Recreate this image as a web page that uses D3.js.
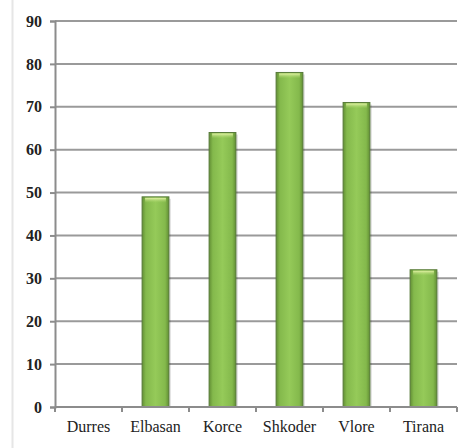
<!DOCTYPE html>
<html>
<head>
<meta charset="utf-8">
<script src="https://cdn.jsdelivr.net/npm/d3@7"></script>
<style>
  body { margin: 0; background: #fff; }
  svg { display: block; }
  svg text { font-family: "Liberation Serif", "Times New Roman", serif; }
</style>
</head>
<body>
<svg id="chart"></svg>
<script>
// data
var cities = ['Durres', 'Elbasan', 'Korce', 'Shkoder', 'Vlore', 'Tirana'];
var values = [0, 49, 64, 78, 71, 32];
var yTicks = [0, 10, 20, 30, 40, 50, 60, 70, 80, 90];

var W = 458, H = 448;
var plotLeft = 55, plotRight = 457, plotTop = 21, plotBottom = 407;

var svg = d3.select('#chart').attr('width', W).attr('height', H);

var defs = svg.append('defs');
var grad = defs.append('linearGradient').attr('id', 'barGrad')
    .attr('x1', 0).attr('x2', 1).attr('y1', 0).attr('y2', 0);
grad.append('stop').attr('offset', '0%').attr('stop-color', '#628f34');
grad.append('stop').attr('offset', '14%').attr('stop-color', '#84b94c');
grad.append('stop').attr('offset', '50%').attr('stop-color', '#95ca59');
grad.append('stop').attr('offset', '86%').attr('stop-color', '#84b94c');
grad.append('stop').attr('offset', '100%').attr('stop-color', '#628f34');

var cap = defs.append('linearGradient').attr('id', 'capGrad')
    .attr('x1', 0).attr('x2', 0).attr('y1', 0).attr('y2', 1);
cap.append('stop').attr('offset', '0%').attr('stop-color', '#e4f2a6').attr('stop-opacity', 1);
cap.append('stop').attr('offset', '100%').attr('stop-color', '#a6d468').attr('stop-opacity', 0);

// faint frame line on the left
svg.append('line')
    .attr('x1', 12.5).attr('x2', 12.5).attr('y1', 0).attr('y2', H)
    .attr('stroke', '#e6e6e6').attr('stroke-width', 2);

var x = d3.scaleBand()
    .domain(cities)
    .range([plotLeft, plotRight])
    .paddingInner(0.6)
    .paddingOuter(0.3);

var y = d3.scaleLinear()
    .domain([0, 90])
    .range([plotBottom, plotTop]);

// gridlines
svg.append('g').selectAll('line')
  .data(yTicks.filter(function(d) { return d > 0; }))
  .enter().append('line')
    .attr('x1', plotLeft).attr('x2', plotRight)
    .attr('y1', function(d) { return y(d); })
    .attr('y2', function(d) { return y(d); })
    .attr('stroke', '#9a9a9a').attr('stroke-width', 2);

// y axis
var yAxis = svg.append('g')
    .attr('transform', 'translate(' + plotLeft + ',0)')
    .call(d3.axisLeft(y).tickValues(yTicks).tickSize(5).tickPadding(8));
yAxis.attr('font-family', null);
yAxis.select('.domain').attr('stroke', '#8c8c8c').attr('stroke-width', 2);
yAxis.selectAll('.tick line').attr('stroke', '#8c8c8c').attr('stroke-width', 2);
yAxis.selectAll('.tick text')
    .style('font-size', '16px').style('font-weight', 'bold').attr('fill', '#222');

// bars
var step = x.step(), gap = step - x.bandwidth();
var bars = svg.append('g').selectAll('g')
  .data(cities.map(function(c, i) { return { city: c, value: values[i] }; })
    .filter(function(d) { return d.value > 0; }))
  .enter().append('g');

bars.append('rect')
    .attr('x', function(d) { return x(d.city) + 2; })
    .attr('y', function(d) { return y(d.value) + 2; })
    .attr('width', x.bandwidth())
    .attr('height', function(d) { return plotBottom - y(d.value) - 2; })
    .attr('fill', '#000').attr('opacity', 0.12);

bars.append('rect')
    .attr('x', function(d) { return x(d.city); })
    .attr('y', function(d) { return y(d.value); })
    .attr('width', x.bandwidth())
    .attr('height', function(d) { return plotBottom - y(d.value); })
    .attr('fill', 'url(#barGrad)')
    .attr('stroke', '#587a3a').attr('stroke-width', 1);

bars.append('rect')
    .attr('x', function(d) { return x(d.city) + 3; })
    .attr('y', function(d) { return y(d.value) + 1; })
    .attr('width', x.bandwidth() - 6)
    .attr('height', 5)
    .attr('fill', 'url(#capGrad)');

// x axis
svg.append('line')
    .attr('x1', plotLeft).attr('x2', plotRight)
    .attr('y1', plotBottom).attr('y2', plotBottom)
    .attr('stroke', '#8c8c8c').attr('stroke-width', 2);

var bounds = cities.map(function(c) { return x(c) - gap / 2; }).concat([plotRight]);
svg.append('g').selectAll('line')
  .data(bounds)
  .enter().append('line')
    .attr('x1', function(d) { return d; }).attr('x2', function(d) { return d; })
    .attr('y1', plotBottom).attr('y2', plotBottom + 5)
    .attr('stroke', '#8c8c8c').attr('stroke-width', 2);

svg.append('g').selectAll('text')
  .data(cities)
  .enter().append('text')
    .attr('x', function(d) { return x(d) + x.bandwidth() / 2; })
    .attr('y', 432)
    .attr('text-anchor', 'middle')
    .style('font-size', '16px')
    .attr('fill', '#222')
    .text(function(d) { return d; });
</script>
</body>
</html>
